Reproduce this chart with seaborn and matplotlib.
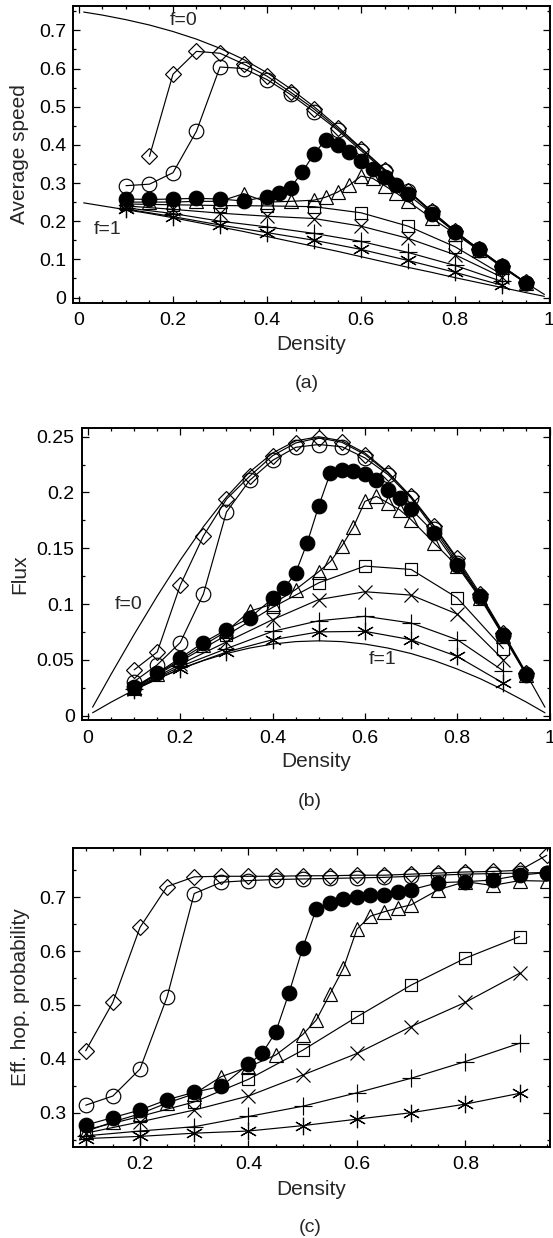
import matplotlib
matplotlib.use("Agg")
import matplotlib.pyplot as plt
import seaborn as sns
from matplotlib.ticker import MultipleLocator, FuncFormatter

sns.set_theme(style="ticks")
plt.rcParams["font.family"] = ["Liberation Sans", "DejaVu Sans"]

# ---------------- data ----------------
rho_th = [0.01, 0.05, 0.1, 0.15, 0.2, 0.25, 0.3, 0.35, 0.4, 0.45, 0.5,
          0.55, 0.6, 0.65, 0.7, 0.75, 0.8, 0.85, 0.9, 0.95, 0.99]
v_f0 = [0.748, 0.740, 0.728, 0.714, 0.697, 0.677, 0.653, 0.624, 0.589, 0.547, 0.500,
        0.448, 0.392, 0.336, 0.280, 0.226, 0.174, 0.126, 0.081, 0.039, 0.008]
v_f1 = [0.248, 0.240, 0.230, 0.220, 0.209, 0.197, 0.185, 0.173, 0.160, 0.147, 0.134,
        0.121, 0.107, 0.093, 0.079, 0.066, 0.052, 0.039, 0.026, 0.013, 0.003]
J_f0 = [0.0075, 0.037, 0.0728, 0.1071, 0.1394, 0.1693, 0.1959, 0.2183, 0.2354, 0.2463, 0.25,
        0.2463, 0.2354, 0.2183, 0.1959, 0.1693, 0.1394, 0.1071, 0.0728, 0.037, 0.0075]
J_f1 = [0.0025, 0.012, 0.023, 0.033, 0.0417, 0.0493, 0.0556, 0.0605, 0.0641, 0.0663, 0.067,
        0.0663, 0.0641, 0.0605, 0.0556, 0.0493, 0.0417, 0.033, 0.023, 0.012, 0.0025]

rho_fine = [0.1, 0.15, 0.2, 0.25, 0.3, 0.35, 0.4, 0.45, 0.5, 0.55, 0.6,
            0.65, 0.7, 0.75, 0.8, 0.85, 0.9, 0.95]
rho_fine_a = [0.15, 0.2, 0.25, 0.3, 0.35, 0.4, 0.45, 0.5, 0.55, 0.6,
              0.65, 0.7, 0.75, 0.8, 0.85, 0.9, 0.95]
rho_filled = [0.1, 0.15, 0.2, 0.25, 0.3, 0.35, 0.4, 0.425, 0.45, 0.475, 0.5, 0.525,
              0.55, 0.575, 0.6, 0.625, 0.65, 0.675, 0.7, 0.75, 0.8, 0.85, 0.9, 0.95]
rho_tri = [0.1, 0.15, 0.2, 0.25, 0.3, 0.35, 0.4, 0.45, 0.5, 0.525, 0.55,
           0.575, 0.6, 0.625, 0.65, 0.675, 0.7, 0.75, 0.8, 0.85, 0.9, 0.95]
rho_coarse = [0.1, 0.2, 0.3, 0.4, 0.5, 0.6, 0.7, 0.8, 0.9]

# (a) average speed
a_diamond = [0.37, 0.585, 0.645, 0.64, 0.612, 0.58, 0.538, 0.494, 0.443, 0.39,
             0.335, 0.28, 0.226, 0.174, 0.127, 0.083, 0.04]
a_circle = [0.293, 0.297, 0.327, 0.436, 0.604, 0.60, 0.571, 0.532, 0.487, 0.439,
            0.385, 0.332, 0.278, 0.223, 0.171, 0.125, 0.081, 0.039]
a_filled = [0.258, 0.257, 0.258, 0.26, 0.258, 0.253, 0.264, 0.273, 0.287, 0.329, 0.376, 0.414,
            0.400, 0.382, 0.357, 0.336, 0.315, 0.294, 0.27, 0.22, 0.172, 0.128, 0.082, 0.039]
a_triangle = [0.25, 0.25, 0.25, 0.252, 0.252, 0.272, 0.25, 0.252, 0.255, 0.263, 0.276,
              0.294, 0.318, 0.312, 0.293, 0.274, 0.252, 0.208, 0.167, 0.124, 0.079, 0.038]
a_square = [0.245, 0.243, 0.241, 0.24, 0.238, 0.222, 0.187, 0.133, 0.06]
a_cross = [0.24, 0.231, 0.221, 0.213, 0.207, 0.187, 0.155, 0.112, 0.053]
a_plus = [0.235, 0.22, 0.2, 0.185, 0.168, 0.147, 0.118, 0.084, 0.042]
a_aster = [0.232, 0.212, 0.19, 0.17, 0.15, 0.126, 0.097, 0.066, 0.032]

# (b) flux
b_diamond = [0.041, 0.057, 0.117, 0.161, 0.194, 0.2145, 0.233, 0.2444, 0.249, 0.245,
             0.234, 0.2175, 0.1965, 0.170, 0.141, 0.109, 0.074, 0.038]
b_circle = [0.0305, 0.0455, 0.0655, 0.109, 0.1825, 0.2108, 0.2288, 0.2405, 0.243, 0.241,
            0.231, 0.216, 0.195, 0.167, 0.137, 0.106, 0.072, 0.037]
b_filled = [0.0255, 0.038, 0.0517, 0.0655, 0.077, 0.0875, 0.105, 0.114, 0.128, 0.155, 0.188,
            0.2175, 0.22, 0.219, 0.217, 0.211, 0.2025, 0.195, 0.185, 0.164, 0.135, 0.107,
            0.0726, 0.0367]
b_triangle = [0.025, 0.0375, 0.05, 0.063, 0.0755, 0.0935, 0.1, 0.113, 0.129, 0.138, 0.152,
              0.169, 0.192, 0.1965, 0.1906, 0.1846, 0.1756, 0.1547, 0.134, 0.105, 0.071, 0.036]
b_square = [0.0245, 0.0487, 0.072, 0.097, 0.119, 0.134, 0.131, 0.1055, 0.06]
b_cross = [0.024, 0.046, 0.066, 0.086, 0.104, 0.111, 0.108, 0.091, 0.05]
b_plus = [0.0235, 0.044, 0.06, 0.0755, 0.085, 0.089, 0.083, 0.068, 0.04]
b_aster = [0.023, 0.042, 0.057, 0.068, 0.075, 0.0755, 0.068, 0.053, 0.029]

# (c) effective hopping probability
c_diamond = [0.415, 0.505, 0.644, 0.72, 0.738, 0.739, 0.739, 0.739, 0.740, 0.740,
             0.741, 0.741, 0.743, 0.745, 0.747, 0.748, 0.75, 0.778]
c_circle = [0.314, 0.331, 0.381, 0.515, 0.707, 0.728, 0.731, 0.733, 0.734, 0.735,
            0.736, 0.737, 0.739, 0.741, 0.743, 0.744, 0.745, 0.746]
c_filled = [0.277, 0.291, 0.305, 0.324, 0.338, 0.349, 0.39, 0.41, 0.449, 0.523, 0.606, 0.678,
            0.689, 0.696, 0.701, 0.704, 0.705, 0.71, 0.714, 0.727, 0.729, 0.732, 0.741, 0.746]
c_triangle = [0.265, 0.283, 0.298, 0.318, 0.335, 0.367, 0.385, 0.407, 0.445, 0.472, 0.52,
              0.568, 0.641, 0.665, 0.673, 0.68, 0.686, 0.714, 0.729, 0.722, 0.731, 0.73]
c_square = [0.268, 0.293, 0.32, 0.362, 0.416, 0.478, 0.537, 0.587, 0.627]
c_cross = [0.262, 0.283, 0.305, 0.331, 0.37, 0.41, 0.46, 0.505, 0.559]
c_plus = [0.257, 0.266, 0.274, 0.293, 0.312, 0.337, 0.364, 0.395, 0.429]
c_aster = [0.252, 0.256, 0.262, 0.266, 0.276, 0.288, 0.3, 0.316, 0.336]

# ---------------- styles ----------------
LW = 0.85
ASTER = (6, 2, 0)
STY = {
    "diamond": dict(marker="D", ms=7.8, mfc="none"),
    "circle": dict(marker="o", ms=10.5, mfc="none"),
    "filled": dict(marker="o", ms=10.5, mfc="black"),
    "triangle": dict(marker="^", ms=10.5, mfc="none"),
    "square": dict(marker="s", ms=9.0, mfc="none"),
    "cross": dict(marker="x", ms=10.0, mfc="none"),
    "plus": dict(marker="+", ms=12.5, mfc="none"),
    "aster": dict(marker=ASTER, ms=12.5, mfc="none"),
}
FS_TICK = 14
FS_LAB = 15


def series(ax, x, y, key):
    s = STY[key]
    sns.lineplot(x=x, y=y, ax=ax, color="black", lw=LW, sort=False, estimator=None,
                 marker=s["marker"], markersize=s["ms"], markerfacecolor=s["mfc"],
                 markeredgecolor="black", markeredgewidth=0.85, zorder=3)


def theory(ax, x, y):
    sns.lineplot(x=x, y=y, ax=ax, color="black", lw=LW, sort=False, estimator=None, zorder=2)


def fmt(v, pos):
    return "%g" % round(v, 3)


def style_axes(ax, xmaj, ymaj, xmin, ymin):
    ax.xaxis.set_major_locator(MultipleLocator(xmaj))
    ax.yaxis.set_major_locator(MultipleLocator(ymaj))
    ax.xaxis.set_minor_locator(MultipleLocator(xmin))
    ax.yaxis.set_minor_locator(MultipleLocator(ymin))
    ax.xaxis.set_major_formatter(FuncFormatter(fmt))
    ax.yaxis.set_major_formatter(FuncFormatter(fmt))
    ax.tick_params(which="both", direction="in", top=True, right=True, colors="black",
                   labelsize=FS_TICK, width=0.9)
    ax.tick_params(which="major", length=5)
    ax.tick_params(which="minor", length=2.5)
    ax.tick_params(axis="x", pad=7)
    ax.tick_params(axis="y", pad=5)
    for sp in ax.spines.values():
        sp.set_visible(True)
        sp.set_linewidth(1.4)
        sp.set_color("black")
    ax.set_facecolor("white")


fig = plt.figure(figsize=(5.53, 12.38), dpi=100)
fig.patch.set_facecolor("white")

ax_a = fig.add_axes([0.1326, 0.7555, 0.862, 0.2397])
ax_b = fig.add_axes([0.1477, 0.4184, 0.8469, 0.2356])
ax_c = fig.add_axes([0.132, 0.0738, 0.8626, 0.241])

# ----- (a) -----
theory(ax_a, rho_th, v_f0)
theory(ax_a, rho_th, v_f1)
series(ax_a, rho_coarse, a_aster, "aster")
series(ax_a, rho_coarse, a_plus, "plus")
series(ax_a, rho_coarse, a_cross, "cross")
series(ax_a, rho_coarse, a_square, "square")
series(ax_a, rho_tri, a_triangle, "triangle")
series(ax_a, rho_filled, a_filled, "filled")
series(ax_a, rho_fine, a_circle, "circle")
series(ax_a, rho_fine_a, a_diamond, "diamond")
ax_a.set_xlim(-0.012, 1.002)
ax_a.set_ylim(-0.0136, 0.764)
style_axes(ax_a, 0.2, 0.1, 0.05, 0.05)
ax_a.text(0.222, 0.726, "f=0", fontsize=FS_TICK, ha="center", va="center")
ax_a.text(0.062, 0.177, "f=1", fontsize=FS_TICK, ha="center", va="center")
ax_a.set_xlabel("Density", fontsize=FS_LAB)
ax_a.set_ylabel("Average speed", fontsize=FS_LAB)
ax_a.xaxis.set_label_coords(0.5, -0.11)
ax_a.yaxis.set_label_coords(-0.092, 0.5)

# ----- (b) -----
theory(ax_b, rho_th, J_f0)
theory(ax_b, rho_th, J_f1)
series(ax_b, rho_coarse, b_aster, "aster")
series(ax_b, rho_coarse, b_plus, "plus")
series(ax_b, rho_coarse, b_cross, "cross")
series(ax_b, rho_coarse, b_square, "square")
series(ax_b, rho_tri, b_triangle, "triangle")
series(ax_b, rho_filled, b_filled, "filled")
series(ax_b, rho_fine, b_circle, "circle")
series(ax_b, rho_fine, b_diamond, "diamond")
ax_b.set_xlim(-0.0137, 1.001)
ax_b.set_ylim(-0.004, 0.2575)
style_axes(ax_b, 0.2, 0.05, 0.05, 0.025)
ax_b.text(0.088, 0.0995, "f=0", fontsize=FS_TICK, ha="center", va="center")
ax_b.text(0.639, 0.0502, "f=1", fontsize=FS_TICK, ha="center", va="center")
ax_b.set_xlabel("Density", fontsize=FS_LAB)
ax_b.set_ylabel("Flux", fontsize=FS_LAB)
ax_b.xaxis.set_label_coords(0.5, -0.108)
ax_b.yaxis.set_label_coords(-0.112, 0.5)

# ----- (c) -----
series(ax_c, rho_coarse, c_aster, "aster")
series(ax_c, rho_coarse, c_plus, "plus")
series(ax_c, rho_coarse, c_cross, "cross")
series(ax_c, rho_coarse, c_square, "square")
series(ax_c, rho_tri, c_triangle, "triangle")
series(ax_c, rho_filled, c_filled, "filled")
series(ax_c, rho_fine, c_circle, "circle")
series(ax_c, rho_fine, c_diamond, "diamond")
ax_c.set_xlim(0.0765, 0.956)
ax_c.set_ylim(0.237, 0.791)
style_axes(ax_c, 0.2, 0.1, 0.05, 0.05)
ax_c.set_xlabel("Density", fontsize=FS_LAB)
ax_c.set_ylabel("Eff. hop. probability", fontsize=FS_LAB)
ax_c.xaxis.set_label_coords(0.5, -0.113)
ax_c.yaxis.set_label_coords(-0.091, 0.5)

for ax in (ax_a, ax_b, ax_c):
    leg = ax.get_legend()
    if leg is not None:
        leg.remove()

fig.text(307 / 553, 1 - 383 / 1238, "(a)", fontsize=FS_TICK, ha="center", va="center")
fig.text(310 / 553, 1 - 802 / 1238, "(b)", fontsize=FS_TICK, ha="center", va="center")
fig.text(310 / 553, 1 - 1228 / 1238, "(c)", fontsize=FS_TICK, ha="center", va="center")

fig.savefig("out.png", dpi=100, facecolor="white")
